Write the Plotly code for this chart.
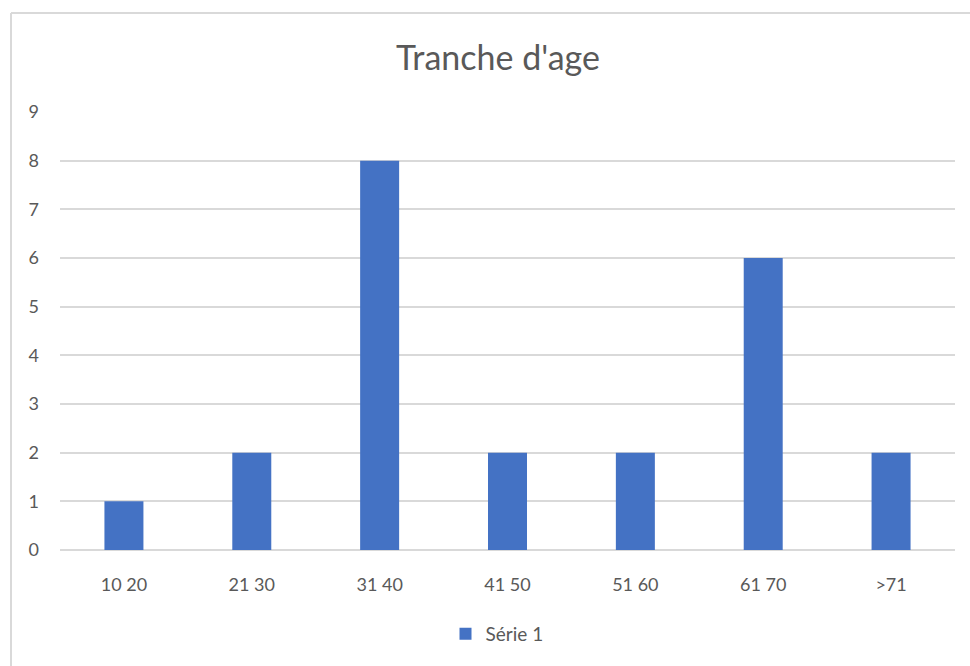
import plotly.graph_objects as go

# Age brackets and head counts
categories = ["10 20", "21 30", "31 40", "41 50", "51 60", "61 70", ">71"]
values = [1, 2, 8, 2, 2, 6, 2]
series_name = "Série 1"
y_ticks = list(range(0, 10))

BAR = "#4472C4"
TEXT = "#595959"
GRID = "#D9D9D9"
FONT = "Lato, 'Open Sans', sans-serif"

W, H = 970, 666
L, R, T, B = 60, 15, 112, 116
pw, ph = W - L - R, H - T - B


def px_to_paper_x(px):
    return (px - L) / pw


def px_to_paper_y(py):
    return (H - B - py) / ph


fig = go.Figure(
    go.Bar(
        x=categories,
        y=values,
        name=series_name,
        marker=dict(color=BAR, line=dict(width=0)),
        showlegend=True,
    )
)

fig.update_layout(
    width=W,
    height=H,
    margin=dict(l=L, r=R, t=T, b=B),
    paper_bgcolor="white",
    plot_bgcolor="white",
    font=dict(family=FONT, color=TEXT, size=18),
    bargap=0.695,
    title=dict(
        text="Tranche d'age",
        x=498 / W,
        xanchor="center",
        y=1 - 58 / H,
        yanchor="middle",
        font=dict(size=34, color=TEXT, family=FONT),
    ),
    legend=dict(
        orientation="h",
        x=px_to_paper_x(497),
        xanchor="center",
        y=px_to_paper_y(634),
        yanchor="middle",
        font=dict(size=19, color=TEXT),
        itemwidth=30,
    ),
    xaxis=dict(
        showgrid=False,
        showline=False,
        ticks="",
        tickfont=dict(size=18, color=TEXT),
        ticklabelstandoff=22,
    ),
    yaxis=dict(
        range=[0, 9],
        tickvals=y_ticks,
        showgrid=True,
        gridcolor=GRID,
        gridwidth=2,
        zeroline=True,
        zerolinecolor=GRID,
        zerolinewidth=2,
        ticks="",
        tickfont=dict(size=18, color=TEXT),
        ticklabelstandoff=20,
    ),
    shapes=[
        # chart frame: left and top edges
        dict(type="line", xref="paper", yref="paper",
             x0=px_to_paper_x(11), x1=px_to_paper_x(11),
             y0=px_to_paper_y(13), y1=px_to_paper_y(670),
             line=dict(color=GRID, width=2)),
        dict(type="line", xref="paper", yref="paper",
             x0=px_to_paper_x(11), x1=px_to_paper_x(975),
             y0=px_to_paper_y(13), y1=px_to_paper_y(13),
             line=dict(color=GRID, width=2)),
    ],
)

fig.write_html("out.html")
